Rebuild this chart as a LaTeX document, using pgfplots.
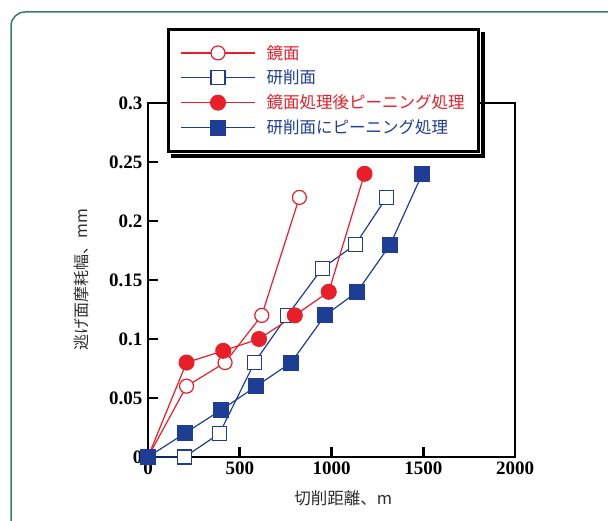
\documentclass[border=0pt]{standalone}
\usepackage{pgfplots}
\pgfplotsset{compat=1.18}
\usepackage{fontspec}
\setmainfont{Liberation Serif}
\newfontfamily\cjk{Noto Sans CJK JP}
\definecolor{myred}{RGB}{232,30,40}
\definecolor{myblue}{RGB}{30,62,150}
\definecolor{frame}{RGB}{50,125,110}
\definecolor{lab}{RGB}{45,45,45}
\begin{document}
\begin{tikzpicture}
\useasboundingbox (0,0) rectangle (608pt,521pt);
\begin{scope}
\clip (0,0) rectangle (608pt,521pt);
\draw[frame, line width=1.5pt, rounded corners=14pt] (11pt,-20pt) -- (11pt,509pt) -- (640pt,509pt);
\end{scope}
\begin{axis}[
  at={(148pt,64pt)}, anchor=south west,
  scale only axis, width=367pt, height=354pt,
  xmin=0, xmax=2000, ymin=0, ymax=0.3,
  clip=false,
  axis line style={line width=2.6pt, line cap=rect},
  tick align=inside, xtick pos=bottom, ytick pos=left,
  major tick length=10pt,
  tick style={line width=2.6pt, black},
  xtick={0,500,1000,1500,2000},
  xticklabels={0,500,1000,1500,2000},
  ytick={0,0.05,0.1,0.15,0.2,0.25,0.3},
  yticklabels={0,0.05,0.1,0.15,0.2,0.25,0.3},
  ticklabel style={font=\fontsize{19}{19}\selectfont\bfseries},
  xticklabel style={yshift=-1pt},
  yticklabel style={xshift=-2pt},
  xlabel={切削距離、m},
  xlabel style={font=\cjk\fontsize{16.5}{16.5}\selectfont, text=lab, at={(axis description cs:0.532,-0.116)}, anchor=center},
  ylabel={逃げ面摩耗幅、mm},
  ylabel style={font=\cjk\fontsize{16}{16}\selectfont, text=lab, at={(axis description cs:-0.18,0.5)}, anchor=center, rotate=0},
  legend cell align=left,
  legend image code/.code={\draw[mark repeat=2,mark phase=2,#1] plot coordinates {(0pt,0pt) (37pt,0pt) (74pt,0pt)};},
  legend style={name=leg, at={(axis description cs:0.052,1.212)}, anchor=north west,
    draw=black, line width=2.6pt, fill=white,
    font=\cjk\fontsize{16.5}{16.5}\selectfont,
    inner xsep=12pt, inner ysep=14pt, row sep=5.5pt,
    /tikz/every odd column/.append style={column sep=9pt}},
]
\addplot[myred, line width=1.2pt, mark=*, mark size=7pt, mark options={fill=white, line width=1.2pt}]
  coordinates {(0,0) (210,0.06) (420,0.08) (620,0.12) (825,0.22)};
\addlegendentry{\textcolor{myred}{鏡面}}
\addplot[myblue, line width=1.2pt, mark=square*, mark size=7pt, mark options={fill=white, line width=1.2pt}]
  coordinates {(0,0) (200,0) (390,0.02) (580,0.08) (760,0.12) (950,0.16) (1130,0.18) (1300,0.22)};
\addlegendentry{\textcolor{myblue}{研削面}}
\addplot[myred, line width=1.2pt, mark=*, mark size=7.5pt, mark options={fill=myred, line width=1pt}]
  coordinates {(0,0) (210,0.08) (410,0.09) (605,0.10) (800,0.12) (985,0.14) (1180,0.24)};
\addlegendentry{\textcolor{myred}{鏡面処理後ピーニング処理}}
\addplot[myblue, line width=1.2pt, mark=square*, mark size=7.5pt, mark options={fill=myblue, line width=1pt}]
  coordinates {(0,0) (200,0.02) (400,0.04) (590,0.06) (780,0.08) (965,0.12) (1140,0.14) (1320,0.18) (1495,0.24)};
\addlegendentry{\textcolor{myblue}{研削面にピーニング処理}}
\end{axis}
\fill[black] ([xshift=1.3pt,yshift=-4pt]leg.north east) rectangle ([xshift=5pt,yshift=-5pt]leg.south east);
\fill[black] ([xshift=4pt,yshift=-1.3pt]leg.south west) rectangle ([xshift=5pt,yshift=-5pt]leg.south east);
\end{tikzpicture}
\end{document}
